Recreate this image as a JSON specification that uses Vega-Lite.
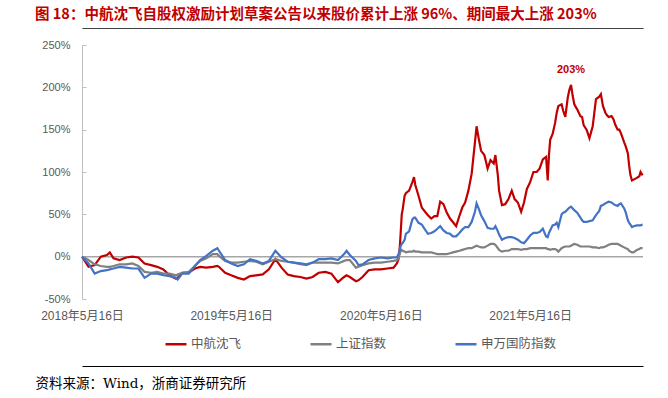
{
  "$schema": "https://vega.github.io/schema/vega-lite/v6.json",
  "width": 561,
  "height": 254,
  "autosize": "none",
  "padding": {"left": 82, "top": 45, "right": 25, "bottom": 99},
  "background": "white",
  "config": {"view": {"stroke": null}},
  "title": {
    "text": "图 18：中航沈飞自股权激励计划草案公告以来股价累计上涨 96%、期间最大上涨 203%",
    "anchor": "start",
    "frame": "group",
    "dx": -47,
    "offset": 6,
    "color": "#C00000",
    "font": "Noto Sans CJK SC",
    "fontSize": 14.5,
    "fontWeight": "bold"
  },
  "datasets": {
    "prices": [
      {"date":"2018-05-16","中航沈飞":0,"上证指数":0,"申万国防指数":0},
      {"date":"2018-06-01","中航沈飞":-12,"上证指数":-4,"申万国防指数":-8},
      {"date":"2018-06-16","中航沈飞":-10,"上证指数":-9,"申万国防指数":-20},
      {"date":"2018-07-01","中航沈飞":0,"上证指数":-11,"申万国防指数":-17},
      {"date":"2018-07-16","中航沈飞":2,"上证指数":-12,"申万国防指数":-16},
      {"date":"2018-07-23","中航沈飞":5,"上证指数":-12,"申万国防指数":-15},
      {"date":"2018-08-01","中航沈飞":-2,"上证指数":-11,"申万国防指数":-14},
      {"date":"2018-08-16","中航沈飞":-4,"上证指数":-9,"申万国防指数":-12},
      {"date":"2018-09-01","中航沈飞":-1,"上证指数":-9,"申万国防指数":-13},
      {"date":"2018-09-16","中航沈飞":0,"上证指数":-8,"申万国防指数":-14},
      {"date":"2018-10-01","中航沈飞":-1,"上证指数":-11,"申万国防指数":-14},
      {"date":"2018-10-16","中航沈飞":-8,"上证指数":-18,"申万国防指数":-25},
      {"date":"2018-11-01","中航沈飞":-10,"上证指数":-19,"申万国防指数":-20},
      {"date":"2018-11-16","中航沈飞":-12,"上证指数":-18,"申万国防指数":-20},
      {"date":"2018-12-01","中航沈飞":-15,"上证指数":-20,"申万国防指数":-22},
      {"date":"2018-12-16","中航沈飞":-22,"上证指数":-20,"申万国防指数":-23},
      {"date":"2019-01-01","中航沈飞":-26,"上证指数":-22,"申万国防指数":-25},
      {"date":"2019-01-05","中航沈飞":-25,"上证指数":-21,"申万国防指数":-27},
      {"date":"2019-01-16","中航沈飞":-19,"上证指数":-19,"申万国防指数":-20},
      {"date":"2019-02-01","中航沈飞":-19,"上证指数":-18,"申万国防指数":-20},
      {"date":"2019-02-16","中航沈飞":-14,"上证指数":-11,"申万国防指数":-11},
      {"date":"2019-03-01","中航沈飞":-12,"上证指数":-5,"申万国防指数":-4},
      {"date":"2019-03-16","中航沈飞":-13,"上证指数":-2,"申万国防指数":1},
      {"date":"2019-04-01","中航沈飞":-12,"上证指数":3,"申万国防指数":7},
      {"date":"2019-04-12","中航沈飞":-11,"上证指数":3,"申万国防指数":10},
      {"date":"2019-04-16","中航沈飞":-12,"上证指数":1,"申万国防指数":7},
      {"date":"2019-05-01","中航沈飞":-19,"上证指数":-5,"申万国防指数":-4},
      {"date":"2019-05-16","中航沈飞":-22,"上证指数":-7,"申万国防指数":-8},
      {"date":"2019-06-01","中航沈飞":-25,"上证指数":-7,"申万国防指数":-11},
      {"date":"2019-06-16","中航沈飞":-27,"上证指数":-6,"申万国防指数":-9},
      {"date":"2019-07-01","中航沈飞":-23,"上证指数":-5,"申万国防指数":-3},
      {"date":"2019-07-16","中航沈飞":-22,"上证指数":-6,"申万国防指数":-5},
      {"date":"2019-08-01","中航沈飞":-21,"上证指数":-9,"申万国防指数":-8},
      {"date":"2019-08-16","中航沈飞":-15,"上证指数":-6,"申万国防指数":-5},
      {"date":"2019-09-01","中航沈飞":-3,"上证指数":-3,"申万国防指数":7},
      {"date":"2019-09-16","中航沈飞":-13,"上证指数":-5,"申万国防指数":-1},
      {"date":"2019-10-01","中航沈飞":-21,"上证指数":-6,"申万国防指数":-6},
      {"date":"2019-10-16","中航沈飞":-23,"上证指数":-7,"申万国防指数":-7},
      {"date":"2019-11-01","中航沈飞":-24,"上证指数":-9,"申万国防指数":-8},
      {"date":"2019-11-16","中航沈飞":-26,"上证指数":-10,"申万国防指数":-9},
      {"date":"2019-12-01","中航沈飞":-24,"上证指数":-7,"申万国防指数":-7},
      {"date":"2019-12-16","中航沈飞":-19,"上证指数":-7,"申万国防指数":-3},
      {"date":"2020-01-01","中航沈飞":-18,"上证指数":-7,"申万国防指数":-3},
      {"date":"2020-01-16","中航沈飞":-20,"上证指数":-7,"申万国防指数":-2},
      {"date":"2020-02-01","中航沈飞":-30,"上证指数":-8,"申万国防指数":-4},
      {"date":"2020-02-16","中航沈飞":-24,"上证指数":-5,"申万国防指数":3},
      {"date":"2020-02-22","中航沈飞":-22,"上证指数":-4,"申万国防指数":7},
      {"date":"2020-03-01","中航沈飞":-24,"上证指数":-4,"申万国防指数":2},
      {"date":"2020-03-16","中航沈飞":-29,"上证指数":-13,"申万国防指数":-5},
      {"date":"2020-03-22","中航沈飞":-28,"上证指数":-12,"申万国防指数":-10},
      {"date":"2020-04-01","中航沈飞":-24,"上证指数":-10,"申万国防指数":-9},
      {"date":"2020-04-16","中航沈飞":-16,"上证指数":-8,"申万国防指数":-4},
      {"date":"2020-05-01","中航沈飞":-15,"上证指数":-7,"申万国防指数":-2},
      {"date":"2020-05-16","中航沈飞":-15,"上证指数":-7,"申万国防指数":-1},
      {"date":"2020-06-01","中航沈飞":-14,"上证指数":-6,"申万国防指数":-2},
      {"date":"2020-06-16","中航沈飞":-13,"上证指数":-5,"申万国防指数":-1},
      {"date":"2020-06-24","中航沈飞":-8,"上证指数":-4,"申万国防指数":-1},
      {"date":"2020-06-28","中航沈飞":-3,"上证指数":-2,"申万国防指数":3},
      {"date":"2020-07-01","中航沈飞":10,"上证指数":3,"申万国防指数":8},
      {"date":"2020-07-03","中航沈飞":25,"上证指数":6,"申万国防指数":12},
      {"date":"2020-07-06","中航沈飞":50,"上证指数":8,"申万国防指数":15},
      {"date":"2020-07-08","中航沈飞":55,"上证指数":7,"申万国防指数":16},
      {"date":"2020-07-13","中航沈飞":72,"上证指数":6,"申万国防指数":20},
      {"date":"2020-07-16","中航沈飞":75,"上证指数":5,"申万国防指数":27},
      {"date":"2020-07-24","中航沈飞":78,"上证指数":6,"申万国防指数":30},
      {"date":"2020-08-01","中航沈飞":88,"上证指数":6,"申万国防指数":44},
      {"date":"2020-08-05","中航沈飞":94,"上证指数":7,"申万国防指数":46},
      {"date":"2020-08-08","中航沈飞":85,"上证指数":6,"申万国防指数":46},
      {"date":"2020-08-16","中航沈飞":72,"上证指数":6,"申万国防指数":40},
      {"date":"2020-08-24","中航沈飞":58,"上证指数":5,"申万国防指数":38},
      {"date":"2020-09-01","中航沈飞":53,"上证指数":5,"申万国防指数":32},
      {"date":"2020-09-08","中航沈飞":49,"上证指数":5,"申万国防指数":27},
      {"date":"2020-09-16","中航沈飞":45,"上证指数":5,"申万国防指数":28},
      {"date":"2020-09-24","中航沈飞":48,"上证指数":4,"申万国防指数":30},
      {"date":"2020-10-01","中航沈飞":48,"上证指数":3,"申万国防指数":33},
      {"date":"2020-10-08","中航沈飞":65,"上证指数":3,"申万国防指数":36},
      {"date":"2020-10-16","中航沈飞":62,"上证指数":3,"申万国防指数":31},
      {"date":"2020-10-24","中航沈飞":52,"上证指数":3,"申万国防指数":28},
      {"date":"2020-11-01","中航沈飞":45,"上证指数":4,"申万国防指数":27},
      {"date":"2020-11-08","中航沈飞":41,"上证指数":5,"申万国防指数":24},
      {"date":"2020-11-16","中航沈飞":36,"上证指数":6,"申万国防指数":24},
      {"date":"2020-11-24","中航沈飞":48,"上证指数":7,"申万国防指数":28},
      {"date":"2020-12-01","中航沈飞":58,"上证指数":8,"申万国防指数":32},
      {"date":"2020-12-08","中航沈飞":64,"上证指数":9,"申万国防指数":35},
      {"date":"2020-12-16","中航沈飞":78,"上证指数":10,"申万国防指数":35},
      {"date":"2020-12-24","中航沈飞":98,"上证指数":10,"申万国防指数":41},
      {"date":"2021-01-01","中航沈飞":135,"上证指数":12,"申万国防指数":53},
      {"date":"2021-01-05","中航沈飞":154,"上证指数":13,"申万国防指数":63},
      {"date":"2021-01-10","中航沈飞":140,"上证指数":12,"申万国防指数":57},
      {"date":"2021-01-16","中航沈飞":125,"上证指数":11,"申万国防指数":49},
      {"date":"2021-01-24","中航沈飞":120,"上证指数":11,"申万国防指数":42},
      {"date":"2021-02-01","中航沈飞":104,"上证指数":13,"申万国防指数":34},
      {"date":"2021-02-08","中航沈飞":114,"上证指数":15,"申万国防指数":33},
      {"date":"2021-02-16","中航沈飞":110,"上证指数":15,"申万国防指数":33},
      {"date":"2021-02-20","中航沈飞":120,"上证指数":14,"申万国防指数":36},
      {"date":"2021-02-26","中航沈飞":96,"上证指数":10,"申万国防指数":30},
      {"date":"2021-03-01","中航沈飞":78,"上证指数":8,"申万国防指数":26},
      {"date":"2021-03-08","中航沈飞":61,"上证指数":6,"申万国防指数":20},
      {"date":"2021-03-16","中航沈飞":62,"上证指数":7,"申万国防指数":22},
      {"date":"2021-03-24","中航沈飞":68,"上证指数":7,"申万国防指数":23},
      {"date":"2021-04-01","中航沈飞":78,"上证指数":9,"申万国防指数":23},
      {"date":"2021-04-08","中航沈飞":68,"上证指数":9,"申万国防指数":22},
      {"date":"2021-04-16","中航沈飞":64,"上证指数":9,"申万国防指数":20},
      {"date":"2021-04-24","中航沈飞":53,"上证指数":8,"申万国防指数":17},
      {"date":"2021-05-01","中航沈飞":64,"上证指数":9,"申万国防指数":16},
      {"date":"2021-05-08","中航沈飞":80,"上证指数":9,"申万国防指数":20},
      {"date":"2021-05-16","中航沈飞":88,"上证指数":10,"申万国防指数":25},
      {"date":"2021-05-24","中航沈飞":100,"上证指数":10,"申万国防指数":28},
      {"date":"2021-06-01","中航沈飞":100,"上证指数":10,"申万国防指数":28},
      {"date":"2021-06-08","中航沈飞":104,"上证指数":10,"申万国防指数":29},
      {"date":"2021-06-16","中航沈飞":115,"上证指数":10,"申万国防指数":33},
      {"date":"2021-06-24","中航沈飞":118,"上证指数":10,"申万国防指数":24},
      {"date":"2021-06-28","中航沈飞":90,"上证指数":9,"申万国防指数":23},
      {"date":"2021-07-01","中航沈飞":120,"上证指数":9,"申万国防指数":28},
      {"date":"2021-07-04","中航沈飞":138,"上证指数":8,"申万国防指数":31},
      {"date":"2021-07-10","中航沈飞":145,"上证指数":9,"申万国防指数":37},
      {"date":"2021-07-16","中航沈飞":158,"上证指数":9,"申万国防指数":38},
      {"date":"2021-07-20","中航沈飞":170,"上证指数":8,"申万国防指数":40},
      {"date":"2021-07-24","中航沈飞":178,"上证指数":6,"申万国防指数":35},
      {"date":"2021-08-01","中航沈飞":180,"上证指数":10,"申万国防指数":50},
      {"date":"2021-08-05","中航沈飞":172,"上证指数":11,"申万国防指数":52},
      {"date":"2021-08-10","中航沈飞":165,"上证指数":12,"申万国防指数":53},
      {"date":"2021-08-16","中航沈飞":188,"上证指数":12,"申万国防指数":56},
      {"date":"2021-08-20","中航沈飞":197,"上证指数":12,"申万国防指数":58},
      {"date":"2021-08-24","中航沈飞":203,"上证指数":13,"申万国防指数":59},
      {"date":"2021-08-28","中航沈飞":190,"上证指数":14,"申万国防指数":57},
      {"date":"2021-09-01","中航沈飞":180,"上证指数":15,"申万国防指数":55},
      {"date":"2021-09-08","中航沈飞":174,"上证指数":14,"申万国防指数":52},
      {"date":"2021-09-16","中航沈飞":166,"上证指数":12,"申万国防指数":46},
      {"date":"2021-09-20","中航沈飞":165,"上证指数":12,"申万国防指数":43},
      {"date":"2021-09-24","中航沈飞":155,"上证指数":12,"申万国防指数":41},
      {"date":"2021-10-01","中航沈飞":150,"上证指数":12,"申万国防指数":41},
      {"date":"2021-10-08","中航沈飞":140,"上证指数":12,"申万国防指数":42},
      {"date":"2021-10-16","中航沈飞":154,"上证指数":11,"申万国防指数":43},
      {"date":"2021-10-20","中航沈飞":170,"上证指数":11,"申万国防指数":46},
      {"date":"2021-10-24","中航沈飞":186,"上证指数":11,"申万国防指数":49},
      {"date":"2021-11-01","中航沈飞":189,"上证指数":10,"申万国防指数":54},
      {"date":"2021-11-05","中航沈飞":192,"上证指数":11,"申万国防指数":60},
      {"date":"2021-11-10","中航沈飞":178,"上证指数":11,"申万国防指数":61},
      {"date":"2021-11-16","中航沈飞":170,"上证指数":12,"申万国防指数":63},
      {"date":"2021-11-20","中航沈飞":167,"上证指数":13,"申万国防指数":64},
      {"date":"2021-11-24","中航沈飞":165,"上证指数":14,"申万国防指数":65},
      {"date":"2021-12-01","中航沈飞":166,"上证指数":15,"申万国防指数":64},
      {"date":"2021-12-06","中航沈飞":162,"上证指数":15,"申万国防指数":62},
      {"date":"2021-12-10","中航沈飞":156,"上证指数":15,"申万国防指数":61},
      {"date":"2021-12-16","中航沈飞":150,"上证指数":15,"申万国防指数":60},
      {"date":"2021-12-20","中航沈飞":150,"上证指数":14,"申万国防指数":62},
      {"date":"2021-12-24","中航沈飞":146,"上证指数":13,"申万国防指数":63},
      {"date":"2022-01-01","中航沈飞":135,"上证指数":11,"申万国防指数":57},
      {"date":"2022-01-05","中航沈飞":130,"上证指数":10,"申万国防指数":52},
      {"date":"2022-01-10","中航沈飞":122,"上证指数":9,"申万国防指数":43},
      {"date":"2022-01-13","中航沈飞":108,"上证指数":7,"申万国防指数":40},
      {"date":"2022-01-16","中航沈飞":97,"上证指数":6,"申万国防指数":38},
      {"date":"2022-01-20","中航沈飞":90,"上证指数":5,"申万国防指数":35},
      {"date":"2022-01-24","中航沈飞":91,"上证指数":5,"申万国防指数":36},
      {"date":"2022-02-01","中航沈飞":93,"上证指数":8,"申万国防指数":37},
      {"date":"2022-02-07","中航沈飞":95,"上证指数":9,"申万国防指数":37},
      {"date":"2022-02-10","中航沈飞":100,"上证指数":10,"申万国防指数":37},
      {"date":"2022-02-15","中航沈飞":96,"上证指数":10,"申万国防指数":38}
    ],
    "zero": [{"start":"2018-05-16","end":"2022-02-16","v":0}],
    "ann": [{"date":"2021-08-24","value":203,"label":"203%"}]
  },
  "resolve": {"axis": {"x": "independent"}},
  "layer": [
    {
      "data": {"name": "zero"},
      "mark": {"type": "rule", "color": "#A6A6A6", "strokeWidth": 1.5},
      "encoding": {
        "x": {"field": "start", "type": "temporal",
              "axis": {"orient": "top", "offset": 17, "domain": true, "domainColor": "#404040", "domainWidth": 1.2, "ticks": false, "labels": false, "grid": false, "title": null}},
        "x2": {"field": "end"},
        "y": {"field": "v", "type": "quantitative"}
      }
    },
    {
      "data": {"name": "prices"},
      "transform": [{"fold": ["中航沈飞", "上证指数", "申万国防指数"], "as": ["series", "value"]}],
      "mark": {"type": "line", "strokeWidth": 2.2},
      "encoding": {
        "x": {
          "field": "date", "type": "temporal",
          "scale": {"domain": [{"year": 2018, "month": 5, "date": 16, "utc": true}, {"year": 2022, "month": 2, "date": 16, "utc": true}]},
          "axis": {
            "orient": "bottom", "offset": 67,
            "values": [{"year": 2018, "month": 5, "date": 16, "utc": true}, {"year": 2019, "month": 5, "date": 16, "utc": true}, {"year": 2020, "month": 5, "date": 16, "utc": true}, {"year": 2021, "month": 5, "date": 16, "utc": true}],
            "labelExpr": "utcFormat(datum.value, '%Y年%-m月%-d日')",
            "labelPadding": -51, "labelBaseline": "middle",
            "labelFlush": false, "labelOverlap": false,
            "labelFont": "Liberation Sans, Noto Sans CJK SC", "labelFontSize": 12, "labelColor": "#595959",
            "ticks": false, "grid": false,
            "domain": true, "domainColor": "#000000", "domainWidth": 1,
            "title": "资料来源：Wind，浙商证券研究所",
            "titleX": -47, "titleY": 17, "titleAlign": "left", "titleBaseline": "middle", "titleAnchor": "start",
            "titleFont": "DejaVu Serif, Noto Sans CJK SC", "titleFontSize": 13.5, "titleFontWeight": "normal", "titleColor": "#000000"
          }
        },
        "y": {
          "field": "value", "type": "quantitative",
          "scale": {"domain": [-50, 250], "nice": false, "zero": false},
          "axis": {
            "values": [-50, 0, 50, 100, 150, 200, 250],
            "labelExpr": "datum.value + '%'",
            "grid": false, "title": null,
            "domainColor": "#BFBFBF", "domainWidth": 1,
            "tickColor": "#BFBFBF", "tickSize": -4,
            "labelPadding": 16, "labelFlush": false, "labelOverlap": false,
            "labelFont": "Liberation Sans", "labelFontSize": 11, "labelColor": "#595959"
          }
        },
        "color": {
          "field": "series", "type": "nominal",
          "scale": {"domain": ["中航沈飞", "上证指数", "申万国防指数"], "range": ["#C00000", "#808080", "#4472C4"]},
          "legend": {
            "orient": "none", "legendX": 82, "legendY": 287, "direction": "horizontal",
            "title": null, "symbolType": "stroke", "symbolSize": 441, "symbolStrokeWidth": 2.5,
            "labelFont": "Noto Sans CJK SC", "labelFontSize": 12.5, "labelColor": "#595959",
            "labelOffset": 3, "columnPadding": 63, "padding": 0
          }
        }
      }
    },
    {
      "data": {"name": "ann"},
      "mark": {"type": "text", "color": "#C00000", "fontWeight": "bold", "fontSize": 11, "font": "Liberation Sans", "dy": -15, "baseline": "middle"},
      "encoding": {
        "x": {"field": "date", "type": "temporal", "axis": null},
        "y": {"field": "value", "type": "quantitative"},
        "text": {"field": "label"}
      }
    }
  ]
}
